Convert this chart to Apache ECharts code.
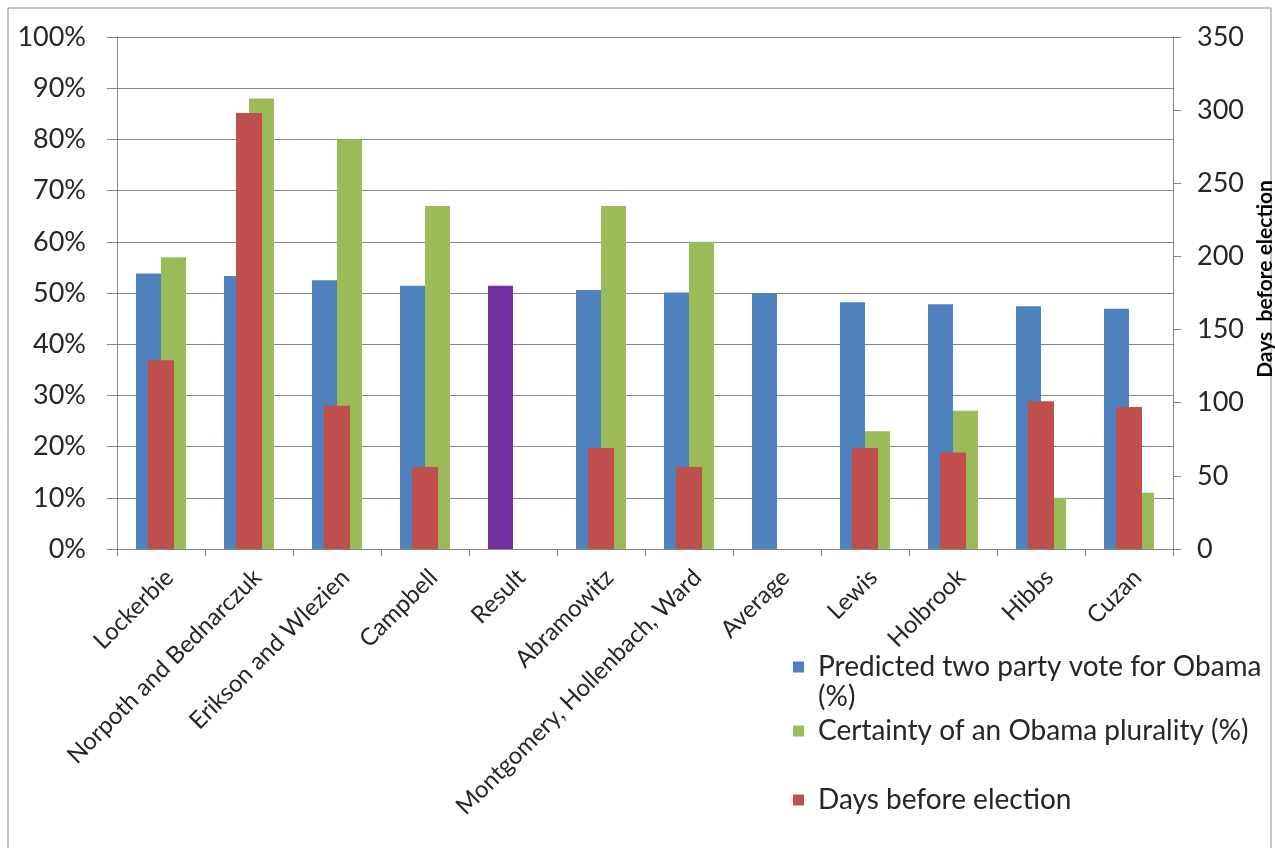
<!DOCTYPE html>
<html>
<head>
<meta charset="utf-8">
<title>Election forecasts</title>
<script src="https://cdn.jsdelivr.net/npm/echarts@6/dist/echarts.min.js"></script>
<style>
  html, body { margin: 0; padding: 0; background: #ffffff; }
  #chart { width: 1275px; height: 848px; }
</style>
</head>
<body>
<div id="chart"></div>
<script>
// Forecast models, with the actual result and the average of models among them
const categories = [
  'Lockerbie', 'Norpoth and Bednarczuk', 'Erikson and Wlezien', 'Campbell', 'Result',
  'Abramowitz', 'Montgomery, Hollenbach, Ward', 'Average', 'Lewis', 'Holbrook', 'Hibbs', 'Cuzan'
];
// Predicted two party vote for Obama (%)
const predictedVote = [53.8, 53.3, 52.5, 51.4, 51.4, 50.6, 50.1, 50.0, 48.2, 47.8, 47.4, 46.9];
// Certainty of an Obama plurality (%)
const certainty = [57, 88, 80, 67, null, 67, 60, null, 23, 27, 10, 11];
// Days before election the forecast was made
const daysBefore = [129, 298, 98, 56, null, 69, 56, null, 69, 66, 101, 97];

const percentTicks = [0, 10, 20, 30, 40, 50, 60, 70, 80, 90, 100];
const dayTicks = [0, 50, 100, 150, 200, 250, 300, 350];

const NAME_VOTE = 'Predicted two party vote for Obama (%)';
const NAME_CERT = 'Certainty of an Obama plurality (%)';
const NAME_DAYS = 'Days before election';
const DAYS_AXIS_TITLE = 'Days  before election';

const BLUE = '#4F81BD', GREEN = '#9BBB59', RED = '#C0504D', PURPLE = '#7030A0';
const GRID = '#868686';
const TEXT = '#262626';
const FONT = 'Lato';

const chart = echarts.init(document.getElementById('chart'), null, { renderer: 'canvas' });

const voteData = predictedVote.map((v, i) =>
  categories[i] === 'Result' ? { value: v, itemStyle: { color: PURPLE } } : v);

const legendText = { fontFamily: FONT, fontSize: 28, color: TEXT, lineHeight: 30 };

const legendCommon = {
  orient: 'vertical',
  left: 793,
  padding: 0,
  itemWidth: 11,
  itemHeight: 11,
  icon: 'rect',
  selectedMode: false,
  textStyle: Object.assign({ padding: [0, 0, 0, 9] }, legendText)
};

chart.setOption({
  animation: false,
  backgroundColor: '#ffffff',
  textStyle: { fontFamily: FONT },
  graphic: [{
    type: 'rect',
    shape: { x: 8, y: 8, width: 1263, height: 860 },
    style: { fill: 'none', stroke: '#8c8c8c', lineWidth: 1 },
    silent: true
  }],
  grid: {
    left: 117, right: 102, top: 37, bottom: 299,
    containLabel: false,
    outerBoundsMode: 'none'
  },
  legend: [
    Object.assign({}, legendCommon, {
      top: 652,
      data: [NAME_VOTE],
      itemHeight: 60,
      // square sits beside the first line of the two-line label
      icon: 'path://M0,0L11,0M0,9.5L11,9.5L11,20.5L0,20.5ZM0,60L11,60',
      formatter: () => '{t|Predicted two party vote for Obama}\n{t|(%)}',
      textStyle: Object.assign({ padding: [0, 0, 0, 9], rich: { t: legendText } }, legendText)
    }),
    Object.assign({}, legendCommon, { top: 716, data: [NAME_CERT] }),
    Object.assign({}, legendCommon, { top: 785, data: [NAME_DAYS] })
  ],
  xAxis: [
    {
      type: 'category',
      data: categories,
      boundaryGap: true,
      axisLine: { show: true, lineStyle: { color: GRID, width: 1 } },
      axisTick: { show: true, length: 7, alignWithLabel: false, lineStyle: { color: GRID } },
      axisLabel: {
        interval: 0, rotate: 45, margin: 16,
        align: 'right', verticalAlign: 'top',
        fontFamily: FONT, fontSize: 24, color: TEXT
      },
      splitLine: { show: false }
    },
    {
      type: 'category',
      data: categories,
      show: false
    }
  ],
  yAxis: [
    {
      type: 'value',
      min: 0, max: 100, interval: 10,
      axisLine: { show: true, lineStyle: { color: GRID, width: 1 } },
      axisTick: { show: true, length: 10, lineStyle: { color: GRID } },
      axisLabel: {
        margin: 31, fontFamily: FONT, fontSize: 27, color: TEXT,
        formatter: v => percentTicks.includes(v) ? v + '%' : ''
      },
      splitLine: { show: true, lineStyle: { color: GRID, width: 1 } }
    },
    {
      type: 'value',
      position: 'right',
      min: 0, max: 350, interval: 50,
      name: DAYS_AXIS_TITLE,
      nameLocation: 'middle',
      nameRotate: 90,
      nameGap: 80,
      nameTextStyle: {
        fontFamily: FONT, fontSize: 21, fontWeight: 'bold', color: '#000000',
        padding: [0, 0, 0, 28]
      },
      axisLine: { show: true, lineStyle: { color: GRID, width: 1 } },
      axisTick: { show: true, length: 8, lineStyle: { color: GRID } },
      axisLabel: {
        margin: 24, fontFamily: FONT, fontSize: 27, color: TEXT,
        formatter: v => dayTicks.includes(v) ? String(v) : ''
      },
      splitLine: { show: false }
    }
  ],
  series: [
    {
      name: NAME_VOTE, type: 'bar',
      xAxisIndex: 0, yAxisIndex: 0,
      data: voteData,
      barWidth: 25, barGap: '0%',
      itemStyle: { color: BLUE }
    },
    {
      name: NAME_CERT, type: 'bar',
      xAxisIndex: 0, yAxisIndex: 0,
      data: certainty,
      barWidth: 25, barGap: '0%',
      itemStyle: { color: GREEN }
    },
    {
      name: NAME_DAYS, type: 'bar',
      xAxisIndex: 1, yAxisIndex: 1,
      data: daysBefore,
      barWidth: 26,
      itemStyle: { color: RED },
      z: 3
    }
  ]
});
</script>
</body>
</html>
